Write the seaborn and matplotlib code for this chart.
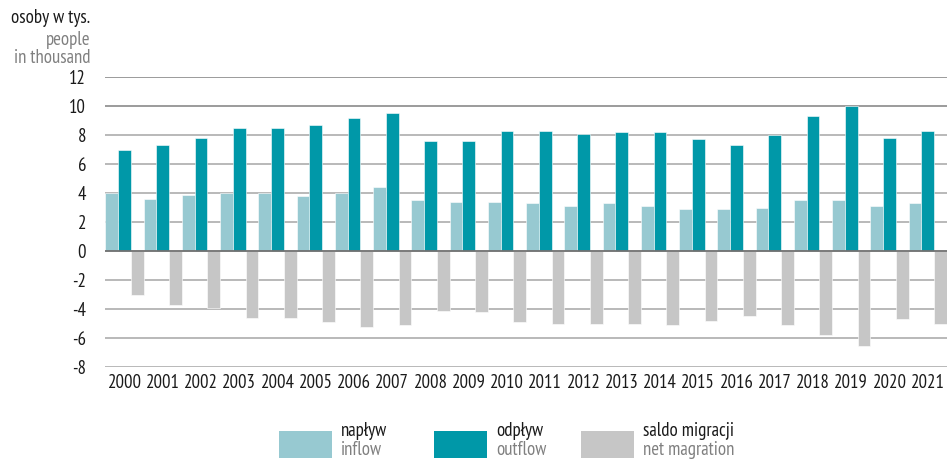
import matplotlib
matplotlib.use("Agg")
import matplotlib.pyplot as plt
import matplotlib.patches as mpatches
from matplotlib import font_manager as fm
import seaborn as sns
import pandas as pd

# Migration data, thousands of persons
years = [str(y) for y in range(2000, 2022)]
inflow = [4.0, 3.6, 3.9, 4.0, 4.0, 3.8, 4.0, 4.4, 3.5, 3.4, 3.4,
          3.3, 3.1, 3.3, 3.1, 2.9, 2.9, 3.0, 3.5, 3.5, 3.1, 3.3]
outflow = [7.0, 7.3, 7.8, 8.5, 8.5, 8.7, 9.2, 9.5, 7.6, 7.6, 8.3,
           8.3, 8.1, 8.2, 8.2, 7.7, 7.3, 8.0, 9.3, 10.0, 7.8, 8.3]
net = [-3.0, -3.7, -3.9, -4.6, -4.6, -4.9, -5.2, -5.1, -4.1, -4.2, -4.9,
       -5.0, -5.0, -5.0, -5.1, -4.8, -4.5, -5.1, -5.8, -6.5, -4.7, -5.0]
yticks = [-8, -6, -4, -2, 0, 2, 4, 6, 8, 10, 12]

series_pl = ["napływ", "odpływ", "saldo migracji"]
series_en = ["inflow", "outflow", "net magration"]
colors = ["#97c9d1", "#0098a8", "#c6c6c6"]

df = pd.DataFrame({
    "rok": years * 3,
    "seria": [series_pl[0]] * len(years) + [series_pl[1]] * len(years) + [series_pl[2]] * len(years),
    "wartosc": inflow + outflow + net,
})

sns.set_theme(style="white")

# pick a condensed sans face
installed = {f.name for f in fm.fontManager.ttflist}
candidates = ["PT Sans Narrow", "Fira Sans Condensed", "Roboto Condensed",
              "Open Sans Condensed", "IBM Plex Sans Condensed", "Archivo Narrow",
              "Encode Sans Condensed", "Asap Condensed", "Liberation Sans Narrow"]
face = next((c for c in candidates if c in installed), "DejaVu Sans")
plt.rcParams["font.family"] = [face, "DejaVu Sans"]
plt.rcParams["axes.unicode_minus"] = False
FS = 13.5 if face != "DejaVu Sans" else 10.5

fig = plt.figure(figsize=(9.5, 4.62), dpi=100)
ax = fig.add_axes([0.111, 0.205, 0.8857, 0.6283])

sns.barplot(data=df, x="rok", y="wartosc", hue="seria", hue_order=series_pl,
            palette=colors, width=1.0, gap=0, saturation=1, errorbar=None,
            edgecolor="white", linewidth=0.4, legend=False, ax=ax, zorder=3)

ax.set_xlim(-0.5, len(years) - 0.5)
ax.set_ylim(-8, 12)
ax.set_yticks(yticks)
for v in yticks:
    if v == 0:
        col, lw, z = "#707070", 1.3, 4
    elif v >= 10:
        col, lw, z = "#808080", 1.1, 1
    else:
        col, lw, z = "#a6a6a6", 1.1, 1
    ax.axhline(v, color=col, lw=lw, zorder=z)

ax.set_xlabel("")
ax.set_ylabel("")
for s in ax.spines.values():
    s.set_visible(False)
ax.tick_params(axis="both", length=0, labelsize=FS, colors="#1a1a1a")
ax.tick_params(axis="y", pad=14)
ax.tick_params(axis="x", pad=5)

# unit label
fig.text(90 / 950, 1 - 18 / 462, "osoby w tys.", ha="right", va="center",
         fontsize=FS, color="#1a1a1a")
fig.text(90 / 950, 1 - 40 / 462, "people", ha="right", va="center",
         fontsize=FS, color="#808080")
fig.text(90 / 950, 1 - 58 / 462, "in thousand", ha="right", va="center",
         fontsize=FS, color="#808080")

# legend
legend_x = [279, 434, 581]
for x0, c, pl, en in zip(legend_x, colors, series_pl, series_en):
    fig.patches.append(mpatches.Rectangle((x0 / 950, 1 - 458 / 462), 53 / 950, 27 / 462,
                                          transform=fig.transFigure, facecolor=c,
                                          edgecolor="none"))
    fig.text((x0 + 62) / 950, 1 - 431 / 462, pl, ha="left", va="center",
             fontsize=FS, color="#1a1a1a")
    fig.text((x0 + 62) / 950, 1 - 450 / 462, en, ha="left", va="center",
             fontsize=FS, color="#808080")

fig.savefig("out.png", dpi=100)
